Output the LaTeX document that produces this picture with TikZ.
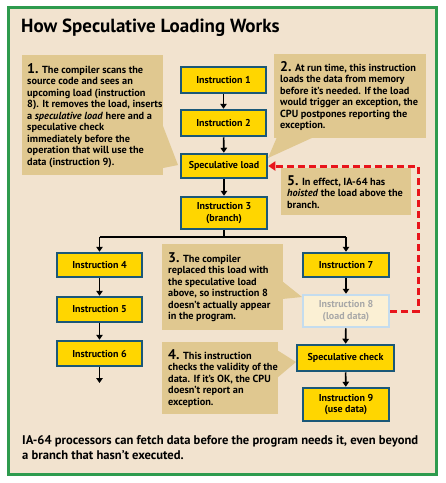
\documentclass[tikz,border=0pt]{standalone}
\usepackage{fontspec}
\setmainfont{PT Sans}
\usetikzlibrary{arrows.meta}
\definecolor{bgbeige}{HTML}{F2E3CF}
\definecolor{tanbox}{HTML}{E0C890}
\definecolor{flowyel}{HTML}{FFD600}
\definecolor{flowedge}{HTML}{1B5878}
\definecolor{greenedge}{HTML}{2E9B4E}
\definecolor{fadefill}{HTML}{FBF0D4}
\definecolor{fadeedge}{HTML}{C4DCEE}
\definecolor{fadetext}{HTML}{A8A8A8}
\definecolor{redline}{HTML}{E8141B}
\begin{document}
\begin{tikzpicture}[x=1pt,y=-1pt,
  flow/.style={draw=flowedge, line width=2.5pt, fill=flowyel, font=\bfseries\fontsize{10}{11.5}\selectfont, align=center, inner sep=1pt},
  fadebox/.style={draw=fadeedge, line width=2.5pt, fill=fadefill, text=fadetext, font=\bfseries\fontsize{10}{11.5}\selectfont, align=center, inner sep=1pt},
  callout/.style={fill=tanbox, draw=none},
  callouttext/.style={anchor=north west, align=left, inner sep=0pt, font=\bfseries\fontsize{10.3}{11.5}\selectfont},
  arr/.style={line width=1.6pt, -{Triangle[width=6.5pt,length=5pt]}}
]
\useasboundingbox (0,0) rectangle (446,483);
% frame
\fill[white] (0,0) rectangle (446,483);
\draw[greenedge, line width=3pt, fill=bgbeige] (8.5,7.5) rectangle (436,474.5);
% title
\node[anchor=west, inner sep=0pt, font=\bfseries\fontsize{19}{21}\selectfont] (title) at (21,28) {How Speculative Loading Works};

% callout boxes
\fill[callout] (22,55) rectangle (163,175);
\fill[callout] (163,126) -- (178,165) -- (163,168) -- cycle;
\fill[callout] (274,54) rectangle (426,138);
\fill[callout] (277,137) -- (314,137) -- (268,158) -- cycle;
\fill[callout] (162,244) rectangle (283,330);
\fill[callout] (282,281) -- (302,297) -- (282,299) -- cycle;
\fill[callout] (162,342) rectangle (278,414);
\fill[callout] (277,350) -- (296,362) -- (277,378) -- cycle;
\fill[callout] (281,168) rectangle (411,215);

\newcommand{\numb}[1]{{\fontsize{14}{11.5}\selectfont #1}}
\node[callouttext] (t1) at (27,63) {\numb{1.} The compiler scans the\\source code and sees an\\upcoming load (instruction\\8). It removes the load, inserts\\a \textit{speculative load} here and a\\speculative check\\immediately before the\\operation that will use the\\data (instruction 9).};
\node[callouttext] (t2) at (280,61) {\numb{2.} At run time, this instruction\\loads the data from memory\\before it's needed. If the load\\would trigger an exception, the\\CPU postpones reporting the\\exception.};
\node[callouttext] (t3) at (168,252) {\numb{3.} The compiler\\replaced this load with\\the speculative load\\above, so instruction 8\\doesn't actually appear\\in the program.};
\node[callouttext] (t4) at (168,349) {\numb{4.} This instruction\\checks the validity of the\\data. If it's OK, the CPU\\doesn't report an\\exception.};
\node[callouttext] (t5) at (287,175) {\numb{5.} In effect, IA-64 has\\\textit{hoisted} the load above the\\branch.};

% flow boxes
\node[flow, minimum width=85pt, minimum height=26pt] (i1) at (223.5,80) {Instruction 1};
\node[flow, minimum width=85pt, minimum height=26pt] (i2) at (223.5,123) {Instruction 2};
\node[flow, minimum width=86pt, minimum height=24pt] (sl) at (224,166) {Speculative load};
\node[flow, minimum width=86pt, minimum height=32pt] (i3) at (224,213) {Instruction 3\\(branch)};
\node[flow, minimum width=85pt, minimum height=24pt] (i4) at (99.5,265) {Instruction 4};
\node[flow, minimum width=85pt, minimum height=25pt] (i5) at (99.5,309.5) {Instruction 5};
\node[flow, minimum width=85pt, minimum height=25pt] (i6) at (99.5,353.5) {Instruction 6};
\node[flow, minimum width=86pt, minimum height=24pt] (i7) at (346,265) {Instruction 7};
\node[fadebox, minimum width=86pt, minimum height=32pt] (i8) at (346,311) {Instruction 8\\(load data)};
\node[flow, minimum width=97pt, minimum height=26pt] (sc) at (345.5,358) {Speculative check};
\node[flow, minimum width=86pt, minimum height=33pt] (i9) at (346,404.5) {Instruction 9\\(use data)};

% connectors
\draw[arr] (i1) -- (i2);
\draw[arr] (i2) -- (sl);
\draw[arr] (sl) -- (i3);
\coordinate (br) at (224,237);
\coordinate (brl) at (i4.north |- br);
\coordinate (brr) at (i7.north |- br);
\draw[line width=1.6pt] (i3.south) -- (br);
\draw[line width=1.6pt] (brl) -- (brr);
\draw[arr] (brl) -- (i4);
\draw[arr] (brr) -- (i7);
\draw[arr] (i4) -- (i5);
\draw[arr] (i5) -- (i6);
\coordinate (end6) at (99.5,383);
\draw[arr] (i6) -- (end6);
\draw[arr] (i7) -- (i8);
\draw[arr] (i8) -- (sc);
\draw[arr] (sc) -- (i9);
% red dashed
\coordinate (rc1) at (418,311);
\coordinate (rc2) at (418,166);
\draw[redline, line width=3pt, dash pattern=on 7pt off 4pt, -{Triangle[width=9pt,length=7pt]}] (i8.east) -- (rc1) -- (rc2) -- (sl.east);

% bottom text
\node[anchor=north west, align=left, inner sep=0pt, font=\bfseries\fontsize{12.6}{15}\selectfont] (foot) at (22,435) {IA-64 processors can fetch data before the program needs it, even beyond\\a branch that hasn't executed.};
\end{tikzpicture}
\end{document}
